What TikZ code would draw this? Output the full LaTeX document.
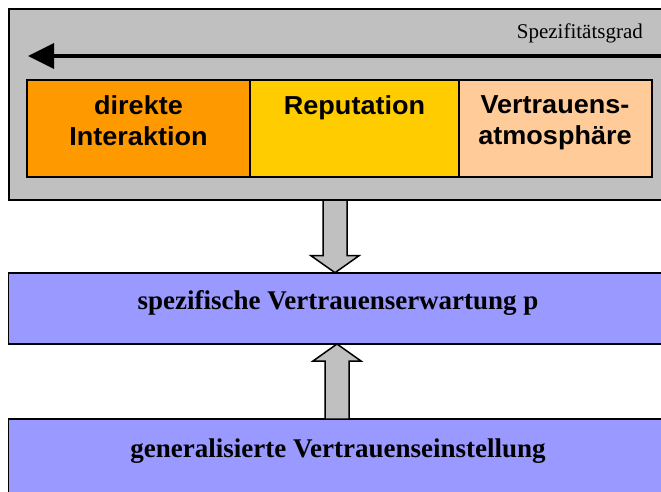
\documentclass[tikz,border=0pt]{standalone}
\usepackage{fontspec}
\setmainfont{Liberation Serif}
\setsansfont{Liberation Sans}
\newfontfamily\boxfont{Liberation Sans}[FakeStretch=1.04]
\usetikzlibrary{arrows.meta,calc}
\definecolor{framegray}{HTML}{C0C0C0}
\definecolor{boxorange}{HTML}{FF9900}
\definecolor{boxyellow}{HTML}{FFCC00}
\definecolor{boxpeach}{HTML}{FFCC99}
\definecolor{boxblue}{HTML}{9999FF}
\begin{document}
\begin{tikzpicture}[x=1pt,y=-1pt,
  box/.style={draw=black, line width=1.8pt, inner sep=0pt, outer sep=0pt, anchor=north west},
  cbox/.style={box, minimum height=97pt},
  lbl/.style={font=\boxfont\bfseries\fontsize{26}{31}\selectfont, align=center, inner sep=0pt, anchor=north},
  blbl/.style={font=\bfseries\fontsize{27}{32}\selectfont, inner sep=0pt, anchor=base},
  blockarrow/.style={draw=black, line width=1.5pt, fill=framegray, line join=miter}]
\useasboundingbox (0,0) rectangle (661,491);
% frame
\node[box, line width=1.6pt, fill=framegray, minimum width=659pt, minimum height=191pt] (frame) at (9,9) {};
% colored boxes
\node[cbox, fill=boxorange, minimum width=223pt] (direkt) at (27,80) {};
\node[cbox, fill=boxyellow, minimum width=209pt] (repu) at (250,80) {};
\node[cbox, fill=boxpeach, minimum width=193pt] (atmo) at (459,80) {};
\node[lbl] (tdirekt) at (138.5,95.5) {direkte\\Interaktion};
\node[lbl] (trepu) at (354.5,95.5) {Reputation};
\node[lbl] (tatmo) at (555,95.5) {Vertrauens-\\atmosphäre};
% Spezifitätsgrad arrow
\coordinate (gradstart) at (670,56);
\coordinate (gradend) at (28,56);
\draw[line width=3.5pt, -{Triangle[length=26pt,width=25pt]}] (gradstart) -- (gradend);
\node[font=\fontsize{21}{25}\selectfont, inner sep=0pt, anchor=base east] (grad) at (643,38) {Spezifitätsgrad};
% blue boxes
\node[box, fill=boxblue, minimum width=660pt, minimum height=71.3pt] (spez) at (8.5,272.7) {};
\node[box, fill=boxblue, minimum width=660pt, minimum height=90pt] (gen) at (8.5,419) {};
\node[blbl] (tspez) at (338,309) {spezifische Vertrauenserwartung p};
\node[blbl] (tgen) at (338,457) {generalisierte Vertrauenseinstellung};
% block arrows
\draw[blockarrow] let \p1=(frame.south), \p2=(spez.north) in
  (323pt,\y1) -- (347pt,\y1) -- (347pt,\y2+17pt) -- (359pt,\y2+17pt) -- (335pt,\y2)
  -- (311pt,\y2+17pt) -- (323pt,\y2+17pt) -- cycle;
\draw[blockarrow] let \p1=(spez.south), \p2=(gen.north) in
  (325pt,\y2) -- (349pt,\y2) -- (349pt,\y1-17pt) -- (361pt,\y1-17pt) -- (337pt,\y1)
  -- (313pt,\y1-17pt) -- (325pt,\y1-17pt) -- cycle;
\end{tikzpicture}
\end{document}
